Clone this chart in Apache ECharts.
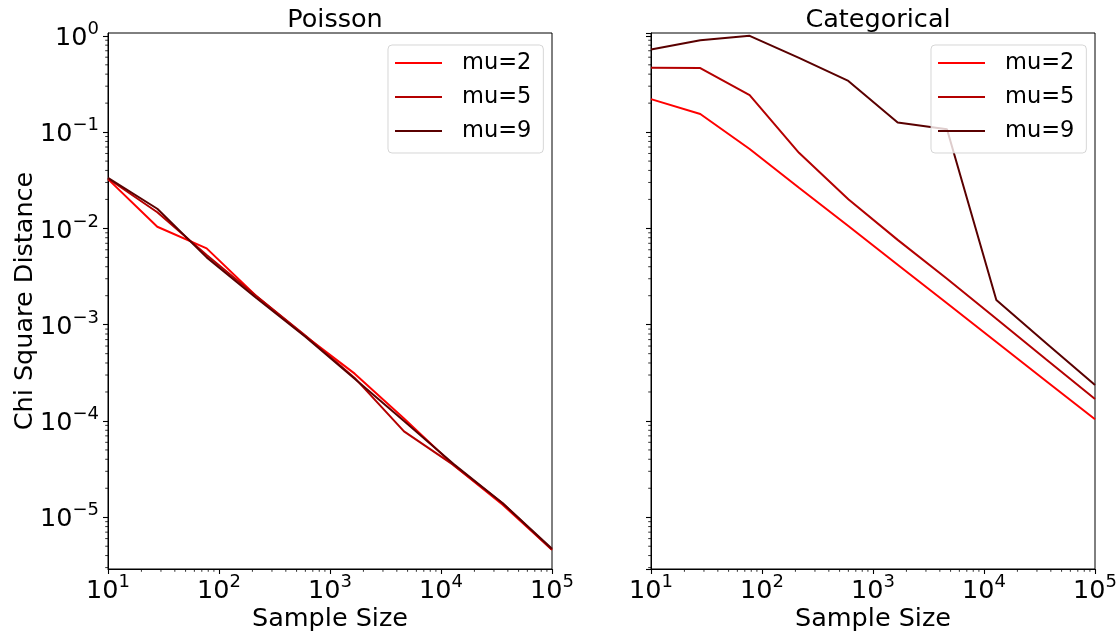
<!DOCTYPE html>
<html>
<head>
<meta charset="utf-8">
<script src="https://cdn.jsdelivr.net/npm/echarts@6/dist/echarts.min.js"></script>
<style>
html,body{margin:0;padding:0;background:#fff;}
#chart{width:1119px;height:634px;}
</style>
</head>
<body>
<div id="chart"></div>
<script>
// ---- data ----
const sampleSizes = [10, 27.8, 77.4, 215.4, 599.5, 1668.1, 4641.6, 12915.5, 35938.1, 100000];
const seriesNames = ['mu=2', 'mu=5', 'mu=9'];
const panelTitles = ['Poisson', 'Categorical'];
const poissonMu2 = [0.0325, 0.0104, 0.0062, 0.0020, 7.6e-4, 3.1e-4, 1.06e-4, 3.5e-5, 1.35e-5, 4.6e-6];
const poissonMu5 = [0.0330, 0.0147, 0.0053, 0.0020, 7.7e-4, 2.8e-4, 7.8e-5, 3.5e-5, 1.4e-5, 4.6e-6];
const poissonMu9 = [0.0335, 0.0160, 0.0050, 0.0019, 7.5e-4, 2.75e-4, 1.0e-4, 3.6e-5, 1.4e-5, 4.7e-6];
const categoricalMu2 = [0.22, 0.154, 0.0667, 0.0264, 0.0106, 0.0042, 0.00167, 6.6e-4, 2.62e-4, 1.04e-4];
const categoricalMu5 = [0.466, 0.462, 0.242, 0.061, 0.0201, 0.0076, 0.0030, 0.00115, 4.4e-4, 1.69e-4];
const categoricalMu9 = [0.72, 0.90, 1.0, 0.59, 0.34, 0.126, 0.107, 0.0018, 6.5e-4, 2.36e-4];
const xLabel = 'Sample Size';
const yLabel = 'Chi Square Distance';

// ---- styling ----
const colors = ['#ff0000', '#b40000', '#5a0000'];
const FONT = 'DejaVu Sans';
const FS = 25.5;
const panelData = [[poissonMu2, poissonMu5, poissonMu9], [categoricalMu2, categoricalMu5, categoricalMu9]];
const gridLefts = [108, 651];
const GRID_TOP = 33, GRID_W = 444, GRID_H = 536;
const X_MIN = 10, X_MAX = 100000, Y_MIN = 2.9e-6, Y_MAX = 1.07;

function pow10Label(v) {
  const e = Math.round(Math.log10(v));
  const s = e < 0 ? '\u2212' + (-e) : String(e);
  return '{b|10}{e|' + s + '}';
}
const richSup = {
  b: {fontSize: FS, fontFamily: FONT, color: '#000', lineHeight: 31, verticalAlign: 'bottom'},
  e: {fontSize: 18, fontFamily: FONT, color: '#000', lineHeight: 18, verticalAlign: 'top'}
};

const chart = echarts.init(document.getElementById('chart'), null, {renderer: 'canvas'});

const grids = [], xAxes = [], yAxes = [], series = [], titles = [], legends = [];
for (let p = 0; p < 2; p++) {
  grids.push({left: gridLefts[p], top: GRID_TOP, width: GRID_W, height: GRID_H,
    show: true, borderColor: '#000', borderWidth: 1, backgroundColor: '#fff',
    containLabel: false, outerBoundsMode: 'none'});
  xAxes.push({
    type: 'log', logBase: 10, gridIndex: p, min: X_MIN, max: X_MAX,
    name: xLabel, nameLocation: 'middle', nameGap: 37, nameMoveOverlap: false,
    nameTextStyle: {fontSize: FS, fontFamily: FONT, color: '#000'},
    axisLine: {show: true, lineStyle: {color: '#000', width: 1}},
    axisTick: {show: true, length: 5, inside: false, lineStyle: {color: '#000', width: 1.1}},
    splitLine: {show: false}, minorTick: {show: false},
    axisLabel: {show: true, margin: 4, formatter: pow10Label, rich: richSup,
      showMinLabel: true, showMaxLabel: true, hideOverlap: false}
  });
  yAxes.push({
    type: 'log', logBase: 10, gridIndex: p, min: Y_MIN, max: Y_MAX,
    name: p === 0 ? yLabel : '', nameLocation: 'middle', nameGap: 70, nameRotate: 90, nameMoveOverlap: false,
    nameTextStyle: {fontSize: FS, fontFamily: FONT, color: '#000'},
    axisLine: {show: true, lineStyle: {color: '#000', width: 1}},
    axisTick: {show: true, length: 5, inside: false, lineStyle: {color: '#000', width: 1.1}},
    splitLine: {show: false}, minorTick: {show: false},
    axisLabel: {show: p === 0, margin: 9, formatter: pow10Label, rich: richSup,
      showMinLabel: false, showMaxLabel: false, hideOverlap: false}
  });
  for (let s = 0; s < 3; s++) {
    series.push({
      type: 'line', name: seriesNames[s], xAxisIndex: p, yAxisIndex: p,
      data: sampleSizes.map((x, i) => [x, panelData[p][s][i]]),
      showSymbol: false, symbol: 'none', animation: false,
      lineStyle: {color: colors[s], width: 2}, itemStyle: {color: colors[s]},
      z: 2 + s
    });
  }
  titles.push({
    text: panelTitles[p], left: gridLefts[p] + GRID_W / 2, top: 2, textAlign: 'center',
    textStyle: {fontSize: FS, fontFamily: FONT, fontWeight: 'normal', color: '#000'}
  });
  legends.push({
    orient: 'vertical', left: gridLefts[p] + 280, top: 45,
    data: seriesNames, selectedMode: false, icon: 'rect', itemWidth: 47, itemHeight: 2,
    itemGap: 10, padding: [6, 12, 10, 7],
    backgroundColor: 'rgba(255,255,255,0.8)', borderColor: 'rgba(204,204,204,0.8)', borderWidth: 1, borderRadius: 4,
    textStyle: {fontSize: 22.5, fontFamily: FONT, color: '#000', lineHeight: 24, padding: [0, 0, 0, 15]},
    z: 10
  });
}

chart.setOption({
  animation: false,
  backgroundColor: '#fff',
  title: titles, legend: legends, grid: grids, xAxis: xAxes, yAxis: yAxes, series: series
});

// minor ticks (matplotlib style: 2..9 x 10^k), positioned through the axes' own scales
const graphics = [];
const MINOR_LEN = 2.8;
for (let p = 0; p < 2; p++) {
  const bottom = GRID_TOP + GRID_H, left = gridLefts[p];
  for (let k = 1; k <= 4; k++) {
    for (let m = 2; m <= 9; m++) {
      const v = m * Math.pow(10, k);
      const px = chart.convertToPixel({xAxisIndex: p}, v);
      graphics.push({type: 'line', silent: true, z: 5,
        shape: {x1: px, y1: bottom, x2: px, y2: bottom + MINOR_LEN},
        style: {stroke: '#000', lineWidth: 0.8}});
    }
  }
  for (let k = -6; k <= 0; k++) {
    for (let m = 2; m <= 9; m++) {
      const v = m * Math.pow(10, k);
      if (v < Y_MIN || v > Y_MAX) continue;
      const py = chart.convertToPixel({yAxisIndex: p}, v);
      graphics.push({type: 'line', silent: true, z: 5,
        shape: {x1: left - MINOR_LEN, y1: py, x2: left, y2: py},
        style: {stroke: '#000', lineWidth: 0.8}});
    }
  }
}
chart.setOption({graphic: graphics});
</script>
</body>
</html>
